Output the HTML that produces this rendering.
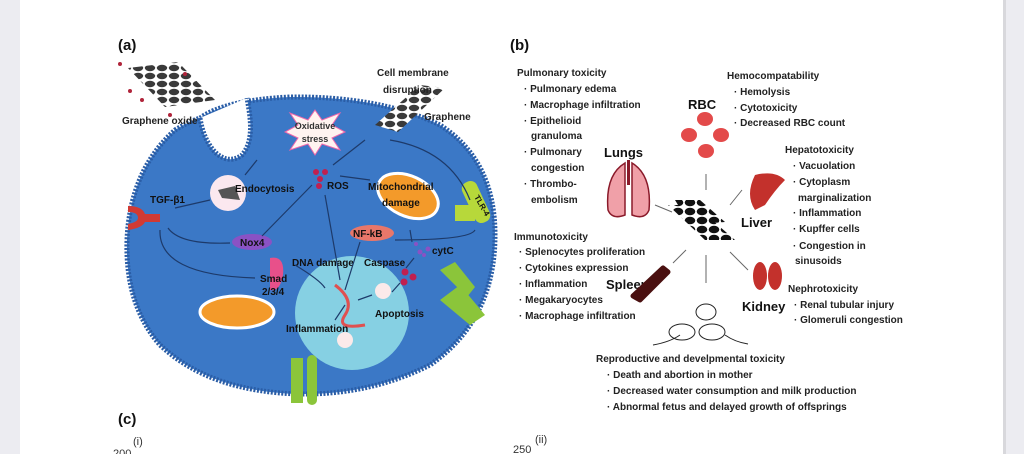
<!DOCTYPE html>
<html><head><meta charset="utf-8"><style>
html,body{margin:0;padding:0;width:1024px;height:454px;overflow:hidden;background:#ececf1;}
svg{display:block}
text{font-family:"Liberation Sans",sans-serif;}
.b{font-weight:bold;font-size:10px;fill:#222}
.w{font-weight:bold;font-size:10px;fill:#111}
</style></head><body>
<svg width="1024" height="454" viewBox="0 0 1024 454">
<defs>
<pattern id="hex" width="12" height="8" patternUnits="userSpaceOnUse">
<rect width="12" height="8" fill="#fff"/>
<ellipse cx="6" cy="4" rx="5.2" ry="3.2" fill="#3a3a3a"/>
</pattern>
<pattern id="hexb" width="12" height="9" patternUnits="userSpaceOnUse">
<rect width="12" height="9" fill="#fff"/>
<ellipse cx="6" cy="4.5" rx="5.3" ry="3.8" fill="#111"/>
</pattern>
</defs>
<rect x="0" y="0" width="1024" height="454" fill="#ececf1"/>
<rect x="20" y="0" width="983" height="454" fill="#fff"/>
<rect x="1003" y="0" width="3" height="454" fill="#d8d8dc"/>
<text x="118" y="50" font-size="15" font-weight="bold" fill="#111">(a)</text>
<text x="510" y="50" font-size="15" font-weight="bold" fill="#111">(b)</text>
<text x="118" y="424" font-size="15" font-weight="bold" fill="#111">(c)</text>
<text x="133" y="445" font-size="11" fill="#333">(i)</text>
<text x="113" y="457" font-size="11" fill="#333">200</text>
<text x="513" y="453" font-size="11" fill="#333">250</text>
<text x="535" y="443" font-size="11" fill="#333">(ii)</text>

<!-- cell -->
<path d="M200 118 Q225 100 290 97 Q380 96 440 125 Q495 160 495 235 Q495 320 430 365 Q370 395 300 394 Q210 392 160 345 Q125 305 127 240 Q130 170 175 130 Q188 122 200 118 Z" fill="#3b78c6" stroke="#2a5da6" stroke-width="5" stroke-dasharray="2 1.5"/>
<path d="M200 118 C205 150 225 168 242 155 C255 140 250 115 247 98" fill="#fff" stroke="#2a5da6" stroke-width="5" stroke-dasharray="2 1.5"/>
<circle cx="352" cy="313" r="57" fill="#86d0e3"/>
<!-- graphene oxide sheet -->
<polygon points="128,68 178,62 215,100 165,107" fill="url(#hex)" transform="rotate(0)"/>
<g fill="#b0243a"><circle cx="120" cy="64" r="2"/><circle cx="185" cy="74" r="2"/><circle cx="130" cy="91" r="2"/><circle cx="142" cy="100" r="2"/><circle cx="170" cy="115" r="2"/></g>
<text x="122" y="124" class="b">Graphene oxide</text>
<!-- graphene -->
<polygon points="375,125 420,85 445,88 398,132" fill="url(#hex)"/>
<text x="377" y="76" class="b">Cell membrane</text>
<text x="383" y="93" class="b">disruption</text>
<text x="424" y="120" class="b" fill="#111">Graphene</text>
<!-- oxidative star -->
<polygon points="315,110 322,120 340,113 332,125 345,132 332,138 340,150 322,144 315,155 308,144 290,150 298,138 285,132 298,125 290,113 308,120" fill="#fff3f0" stroke="#e6a" stroke-width="1"/>
<text x="315" y="129" text-anchor="middle" font-size="9" font-weight="bold" fill="#333">Oxidative</text>
<text x="315" y="142" text-anchor="middle" font-size="9" font-weight="bold" fill="#333">stress</text>
<g fill="#c02050"><circle cx="316" cy="172" r="3"/><circle cx="325" cy="172" r="3"/><circle cx="320" cy="179" r="3"/><circle cx="319" cy="186" r="3"/></g>
<text x="327" y="189" class="w">ROS</text>
<!-- mito right -->
<ellipse cx="408" cy="196" rx="32" ry="20" transform="rotate(25 408 196)" fill="#f39a2a" stroke="#fff" stroke-width="3"/>
<text x="368" y="190" class="w">Mitochondrial</text>
<text x="382" y="206" class="w">damage</text>
<!-- TLR4 -->
<rect x="468" y="180" width="16" height="44" rx="7" fill="#b7d83a" transform="rotate(-25 476 202)"/>
<rect x="455" y="205" width="20" height="16" fill="#b7d83a"/>
<text x="474" y="197" font-size="8" font-weight="bold" fill="#111" transform="rotate(60 474 197)">TLR-4</text>
<!-- endocytosis -->
<circle cx="228" cy="193" r="18" fill="#fbe8ef"/>
<polygon points="218,190 235,186 240,200 222,198" fill="#555"/>
<text x="235" y="192" class="w" font-size="11">Endocytosis</text>
<text x="150" y="203" class="w" fill="#fff">TGF-β1</text>
<path d="M128 206 Q142 206 145 214 L160 214 L160 222 L145 222 Q142 228 128 230 L128 224 Q138 222 138 218 Q138 212 128 212Z" fill="#d13a33"/>
<ellipse cx="252" cy="242" rx="20" ry="8" fill="#8a52c4"/>
<text x="240" y="246" class="w">Nox4</text>
<ellipse cx="372" cy="233" rx="22" ry="8" fill="#e8776a"/>
<text x="353" y="237" class="w">NF-kB</text>
<g fill="#8a52c4"><circle cx="416" cy="244" r="2"/><circle cx="420" cy="252" r="2.5"/><circle cx="428" cy="249" r="2.5"/><circle cx="424" cy="255" r="2"/></g>
<text x="432" y="254" class="w" font-size="9">cytC</text>
<text x="292" y="266" class="w" font-size="9.5">DNA damage</text>
<text x="364" y="266" class="w" font-size="9.5">Caspase</text>
<g fill="#c02050"><circle cx="405" cy="272" r="3.5"/><circle cx="413" cy="277" r="3.5"/><circle cx="404" cy="282" r="3.5"/></g>
<path d="M270 258 Q285 255 283 275 Q280 292 270 290 Z" fill="#e8508a"/>
<text x="260" y="282" class="w">Smad</text>
<text x="262" y="295" class="w">2/3/4</text>
<ellipse cx="237" cy="312" rx="37" ry="16" fill="#f39a2a" stroke="#fff" stroke-width="3"/>
<path d="M335 285 Q355 300 345 315 Q335 330 365 325" fill="none" stroke="#e05050" stroke-width="3"/>
<circle cx="383" cy="291" r="8" fill="#fbeaea"/>
<text x="375" y="317" class="w" font-size="9.5">Apoptosis</text>
<text x="286" y="332" class="w" font-size="9.5">Inflammation</text>
<circle cx="345" cy="340" r="8" fill="#fbeaea"/>
<!-- channels -->
<rect x="291" y="358" width="12" height="45" fill="#8bc53a"/><rect x="307" y="355" width="10" height="50" rx="5" fill="#8bc53a"/>
<path d="M440 270 l15 -8 l20 25 l-8 10 Z M440 300 l20 -15 l25 30 l-15 10 Z" fill="#8bc53a"/>
<!-- arrows a -->
<g fill="none" stroke="#1d3a6a" stroke-width="1.2">
<path d="M365 140 L333 165"/><path d="M390 140 Q450 150 470 200"/><path d="M370 180 L340 176"/>
<path d="M257 160 L245 175"/><path d="M210 200 L175 208"/><path d="M168 228 Q180 245 230 243"/>
<path d="M160 230 Q158 275 255 278"/><path d="M262 236 L312 185"/><path d="M325 195 L340 280"/>
<path d="M475 230 Q470 240 395 240"/><path d="M360 242 L345 290"/><path d="M410 230 L412 242"/>
<path d="M414 258 L406 268"/><path d="M400 283 L392 292"/><path d="M295 265 Q320 280 325 288"/>
<path d="M358 300 L372 295"/><path d="M345 305 L335 320"/>
</g>

<!-- panel b -->
<text x="517" y="76" class="b">Pulmonary toxicity</text>
<text x="524" y="92" class="b">· Pulmonary edema</text>
<text x="524" y="108" class="b">· Macrophage infiltration</text>
<text x="524" y="124" class="b">· Epithelioid</text>
<text x="531" y="139" class="b">granuloma</text>
<text x="524" y="155" class="b">· Pulmonary</text>
<text x="531" y="171" class="b">congestion</text>
<text x="524" y="187" class="b">· Thrombo-</text>
<text x="531" y="203" class="b">embolism</text>
<text x="727" y="79" class="b">Hemocompatability</text>
<text x="734" y="95" class="b">· Hemolysis</text>
<text x="734" y="111" class="b">· Cytotoxicity</text>
<text x="734" y="126" class="b">· Decreased RBC count</text>
<text x="688" y="109" font-size="13" font-weight="bold" fill="#111">RBC</text>
<g fill="#e34a4a"><ellipse cx="705" cy="119" rx="8" ry="7"/><ellipse cx="689" cy="135" rx="8" ry="7"/><ellipse cx="721" cy="135" rx="8" ry="7"/><ellipse cx="706" cy="151" rx="8" ry="7"/></g>
<text x="604" y="157" font-size="13" font-weight="bold" fill="#111">Lungs</text>
<path d="M625 163 Q605 175 608 210 Q612 220 625 215 Z M632 163 Q652 175 649 210 Q645 220 632 215 Z" fill="#f0a0a8" stroke="#8a1a2a" stroke-width="1.5"/>
<rect x="627" y="160" width="3" height="25" fill="#8a1a2a"/>
<polygon points="668,205 695,205 735,240 705,240" fill="url(#hexb)"/>
<polygon points="675,200 700,200 725,222 690,225" fill="url(#hexb)"/>
<path d="M755 175 Q775 170 785 180 Q775 190 765 205 L755 210 Q745 195 755 175Z" fill="#c3312c"/>
<text x="741" y="227" font-size="13" font-weight="bold" fill="#111">Liver</text>
<text x="785" y="153" class="b">Hepatotoxicity</text>
<text x="793" y="169" class="b">· Vacuolation</text>
<text x="793" y="185" class="b">· Cytoplasm</text>
<text x="798" y="201" class="b">marginalization</text>
<text x="793" y="216" class="b">· Inflammation</text>
<text x="793" y="232" class="b">· Kupffer cells</text>
<text x="793" y="249" class="b">· Congestion in</text>
<text x="795" y="264" class="b">sinusoids</text>
<text x="514" y="240" class="b">Immunotoxicity</text>
<text x="519" y="255" class="b">· Splenocytes proliferation</text>
<text x="519" y="271" class="b">· Cytokines expression</text>
<text x="519" y="287" class="b">· Inflammation</text>
<text x="519" y="303" class="b">· Megakaryocytes</text>
<text x="519" y="319" class="b">· Macrophage infiltration</text>
<text x="606" y="289" font-size="13" font-weight="bold" fill="#111">Spleen</text>
<path d="M663 268 L668 272 L640 300 L633 296Z" fill="#4a1010" stroke="#4a1010" stroke-width="5" stroke-linejoin="round"/>
<ellipse cx="760" cy="276" rx="7" ry="14" fill="#c3312c"/><ellipse cx="775" cy="276" rx="7" ry="14" fill="#c3312c"/>
<text x="742" y="311" font-size="13" font-weight="bold" fill="#111">Kidney</text>
<text x="788" y="292" class="b">Nephrotoxicity</text>
<text x="794" y="308" class="b">· Renal tubular injury</text>
<text x="794" y="323" class="b">· Glomeruli congestion</text>
<g fill="none" stroke="#222" stroke-width="1"><path d="M653 345 Q670 342 680 335"/><path d="M725 335 Q735 342 748 344"/><ellipse cx="682" cy="332" rx="13" ry="8"/><ellipse cx="712" cy="332" rx="13" ry="8"/><ellipse cx="706" cy="312" rx="10" ry="8"/></g>
<text x="596" y="362" class="b">Reproductive and develpmental toxicity</text>
<text x="607" y="378" class="b">· Death and abortion in mother</text>
<text x="607" y="394" class="b">· Decreased water consumption and milk production</text>
<text x="607" y="410" class="b">· Abnormal fetus and delayed growth of offsprings</text>
<g stroke="#666" stroke-width="1" fill="none">
<path d="M706 190 L706 174"/><path d="M672 212 L655 205"/><path d="M730 205 L742 190"/>
<path d="M686 250 L673 263"/><path d="M706 255 L706 283"/><path d="M730 252 L748 270"/>
</g>
</svg>
</body></html>
